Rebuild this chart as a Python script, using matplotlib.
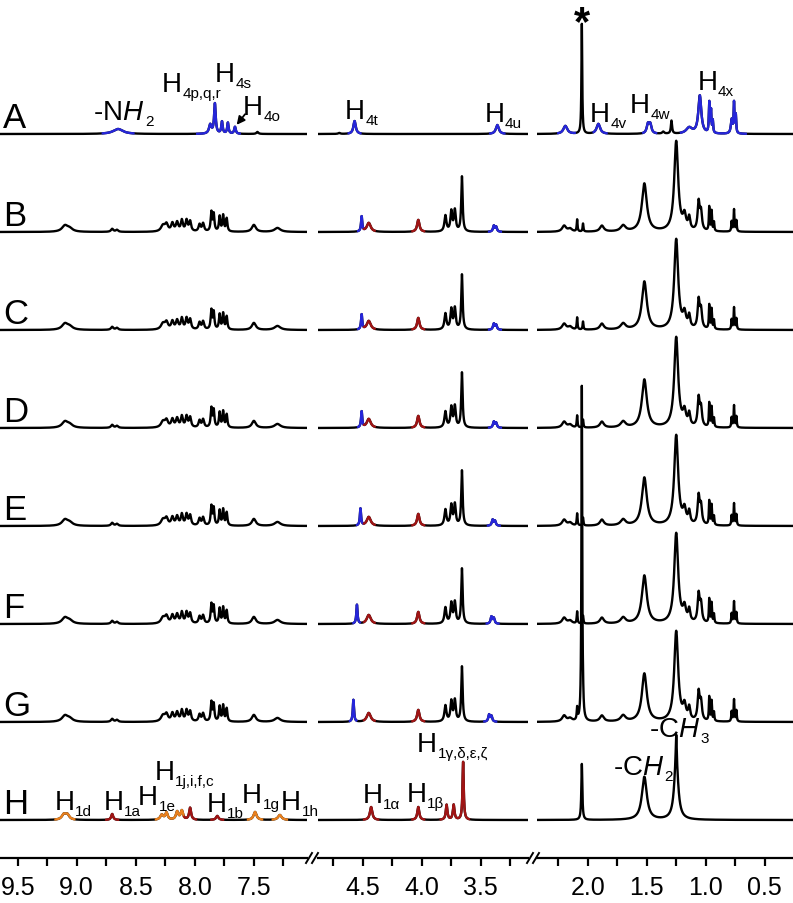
import matplotlib.pyplot as plt
from matplotlib.lines import Line2D
import numpy as np

plt.rcParams['font.family'] = ['Liberation Sans', 'DejaVu Sans']
plt.rcParams['mathtext.fontset'] = 'custom'
plt.rcParams['mathtext.rm'] = 'Liberation Sans'
plt.rcParams['mathtext.it'] = 'Liberation Sans:italic'
plt.rcParams['mathtext.bf'] = 'Liberation Sans:bold'

BLUE = '#2626d9'
RED = '#a01414'
ORANGE = '#e8801e'

# x ranges of the three axis pieces (ppm, left -> right)
segments = [(9.65, 7.05), (4.88, 3.10), (2.43, 0.26)]
row_names = ['A', 'B', 'C', 'D', 'E', 'F', 'G', 'H']

# peaks: (ppm, height in px, half width in ppm)
peaks_A = [(8.65, 5, 0.05), (7.87, 9, 0.012), (7.83, 30, 0.008), (7.77, 12, 0.007),
           (7.72, 11, 0.007), (7.66, 7, 0.008), (7.47, 2, 0.01),
           (4.70, 1, 0.01), (4.57, 13, 0.012), (3.36, 9, 0.015),
           (2.19, 8, 0.02), (2.05, 110, 0.004), (1.91, 10, 0.018),
           (1.49, 9, 0.012), (1.47, 9, 0.012), (1.36, 2, 0.01), (1.29, 13, 0.006),
           (1.14, 6, 0.03), (1.05, 38, 0.015), (0.97, 30, 0.004), (0.955, 22, 0.004),
           (0.94, 12, 0.004), (0.78, 14, 0.008), (0.76, 30, 0.004), (0.745, 18, 0.004)]
colors_A = [(8.78, 8.52, BLUE), (7.98, 7.62, BLUE), (4.62, 4.52, BLUE), (3.42, 3.30, BLUE),
            (2.25, 2.11, BLUE), (1.95, 1.84, BLUE), (1.53, 1.42, BLUE), (1.21, 0.66, BLUE)]

peaks_mix = [(9.10, 6, 0.03), (9.06, 3, 0.03), (8.70, 3, 0.012), (8.66, 2, 0.012),
             (8.27, 6, 0.02), (8.24, 7, 0.015), (8.19, 8, 0.012), (8.15, 9, 0.012),
             (8.11, 11, 0.01), (8.07, 11, 0.01), (8.04, 10, 0.01), (7.96, 7, 0.01),
             (7.93, 8, 0.01), (7.86, 19, 0.007), (7.84, 17, 0.007), (7.79, 15, 0.007),
             (7.76, 16, 0.007), (7.73, 13, 0.007), (7.50, 7, 0.02), (7.30, 4, 0.03),
             (4.45, 9, 0.02), (4.03, 12, 0.012), (3.80, 16, 0.01), (3.75, 20, 0.009),
             (3.72, 21, 0.009), (3.66, 55, 0.007),
             (2.20, 6, 0.02), (2.15, 3, 0.02), (2.09, 12, 0.004), (2.04, 8, 0.004),
             (1.88, 6, 0.02), (1.70, 6, 0.025), (1.52, 48, 0.025), (1.25, 90, 0.02),
             (1.18, 14, 0.015), (1.14, 12, 0.01), (1.06, 28, 0.01), (1.04, 18, 0.01),
             (0.97, 24, 0.004), (0.95, 20, 0.004), (0.93, 9, 0.004), (0.78, 10, 0.004),
             (0.76, 22, 0.004), (0.74, 11, 0.004)]
h4t_ppm = [4.51, 4.51, 4.51, 4.52, 4.55, 4.58]
h4t_int = [15, 15, 16, 17, 19, 22]
h4u_ppm = [3.38, 3.38, 3.38, 3.39, 3.40, 3.42]
h4u_int = [6, 6, 6, 6, 7, 7]
solvent_int = [0, 0, 0, 0, 0, 335]

peaks_H = [(9.11, 5, 0.02), (9.08, 5, 0.02), (8.70, 6, 0.01), (8.28, 5, 0.015),
           (8.24, 7, 0.012), (8.15, 8, 0.012), (8.11, 9, 0.012), (8.04, 12, 0.01),
           (7.81, 4, 0.012), (7.49, 8, 0.015), (7.28, 5, 0.018),
           (4.43, 13, 0.012), (4.03, 13, 0.01), (3.79, 15, 0.008), (3.73, 15, 0.008),
           (3.65, 58, 0.006), (2.05, 56, 0.005), (1.52, 43, 0.025),
           (1.25, 60, 0.02), (1.25, 25, 0.004)]
colors_H = [(9.18, 9.02, ORANGE), (8.75, 8.65, RED), (8.33, 8.09, ORANGE), (8.09, 7.99, RED),
            (7.86, 7.76, RED), (7.55, 7.43, ORANGE), (7.34, 7.22, ORANGE),
            (4.49, 4.37, RED), (4.08, 3.98, RED), (3.84, 3.60, RED)]


def lorentz(x, peaks):
    y = np.zeros_like(x)
    for p, h, w in peaks:
        y += h / (1 + ((x - p) / w) ** 2)
    return y


W, H = 793, 904
AXIS_Y = 859
fig = plt.figure(figsize=(W / 100, H / 100), dpi=100)

pix_l = [0, 318, 537]
pix_r = [307, 528, 793]
axes = []
for (lo_px, hi_px), (xl, xr) in zip(zip(pix_l, pix_r), segments):
    ax = fig.add_axes([lo_px / W, (H - AXIS_Y) / H, (hi_px - lo_px) / W, AXIS_Y / H])
    ax.set_xlim(xl, xr)
    ax.set_ylim(0, AXIS_Y)
    for s in ['top', 'left', 'right']:
        ax.spines[s].set_visible(False)
    ax.spines['bottom'].set_linewidth(1.6)
    ax.set_yticks([])
    ticks = np.arange(0.5, 10, 0.5)
    ax.set_xticks([t for t in ticks if xr <= t <= xl])
    ax.set_xticklabels(['%.1f' % t for t in ticks if xr <= t <= xl])
    ax.set_xticks(np.arange(0.25, 10, 0.5), minor=True)
    ax.tick_params(axis='x', which='major', direction='out', length=6, width=1.6,
                   labelsize=18, pad=6)
    ax.tick_params(axis='x', which='minor', direction='out', length=6, width=1.6)
    ax.set_xlim(xl, xr)
    axes.append(ax)

rows = []
rows.append((peaks_A, colors_A))
for i in range(6):
    pk = list(peaks_mix)
    pk.append((h4t_ppm[i], h4t_int[i], 0.006))
    pk.append((h4u_ppm[i] + 0.01, h4u_int[i], 0.008))
    pk.append((h4u_ppm[i] - 0.01, h4u_int[i] * 0.8, 0.008))
    if solvent_int[i]:
        pk.append((2.05, solvent_int[i], 0.004))
    cl = [(h4t_ppm[i] + 0.03, h4t_ppm[i] - 0.025, BLUE), (4.49, 4.40, RED),
          (4.08, 3.98, RED), (h4u_ppm[i] + 0.05, h4u_ppm[i] - 0.05, BLUE)]
    rows.append((pk, cl))
rows.append((peaks_H, colors_H))

spacing = 98
base_px = [135 + spacing * i for i in range(8)]

for r, (pk, cl) in enumerate(rows):
    base = AXIS_Y - base_px[r]
    for ax, (xl, xr) in zip(axes, segments):
        x = np.linspace(xl, xr, 4000)
        y = lorentz(x, pk) + base
        ax.plot(x, y, color='black', lw=1.7, solid_capstyle='butt')
        for hi, lo, c in cl:
            m = (x <= hi) & (x >= lo)
            if m.any():
                ax.plot(x[m], y[m], color=c, lw=1.7)
    fig.text(3 / W, (H - base_px[r] + 7) / H, row_names[r], fontsize=25,
             ha='left', va='baseline')

# break marks on the axis
for bx in [312, 533]:
    for dx in [-3, 3]:
        fig.add_artist(Line2D([(bx + dx - 3) / W, (bx + dx + 3) / W],
                              [(H - AXIS_Y - 5) / H, (H - AXIS_Y + 5) / H],
                              color='black', lw=1.4))


def lab(ax, ppm, ypx, main, sub, fs=20, sfs=11):
    t = ax.text(ppm, AXIS_Y - ypx, main, fontsize=fs, ha='left', va='baseline')
    ax.annotate(sub, xy=(1, 0), xycoords=t, xytext=(0.3, -0.3),
                textcoords='offset points', fontsize=sfs, ha='left', va='baseline')


a1, a2, a3 = axes
# row A labels
lab(a1, 8.86, 120, '-N$H$', '2')
lab(a1, 8.28, 92, 'H', '4p,q,r')
lab(a1, 7.83, 82, 'H', '4s')
lab(a1, 7.59, 115, 'H', '4o')
a1.annotate('', xy=(7.66, AXIS_Y - 128), xytext=(7.56, AXIS_Y - 113),
            arrowprops=dict(arrowstyle='-|>', color='black', lw=1.3, mutation_scale=12))
lab(a2, 4.65, 119, 'H', '4t')
lab(a2, 3.47, 122, 'H', '4u')
a3.text(2.05, AXIS_Y - 35, '*', fontsize=30, fontweight='bold', ha='center', va='baseline')
lab(a3, 1.98, 122, 'H', '4v')
lab(a3, 1.64, 113, 'H', '4w')
lab(a3, 1.07, 90, 'H', '4x')

# row H labels
lab(a1, 9.19, 810, 'H', '1d')
lab(a1, 8.77, 810, 'H', '1a')
lab(a1, 8.48, 805, 'H', '1e')
lab(a1, 8.34, 780, 'H', '1j,i,f,c')
lab(a1, 7.90, 812, 'H', '1b')
lab(a1, 7.60, 803, 'H', '1g')
lab(a1, 7.27, 810, 'H', '1h')
lab(a2, 4.50, 803, 'H', '1α')
lab(a2, 4.13, 802, 'H', '1β')
lab(a2, 4.04, 752, 'H', '1γ,δ,ε,ζ')
lab(a3, 1.79, 775, '-C$H$', '2')
lab(a3, 1.48, 737, '-C$H$', '3')

fig.savefig('out.png', dpi=100)
